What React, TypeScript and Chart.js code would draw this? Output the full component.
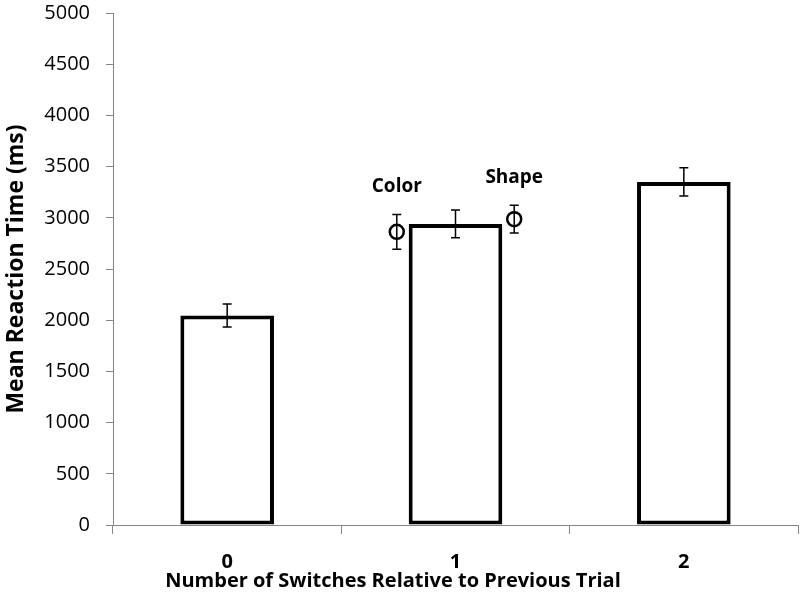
import { useEffect, useRef } from 'react';
import { Chart, registerables } from 'chart.js';

Chart.register(...registerables);

const categories = ['0', '1', '2'];
const meanRT = [2045, 2940, 3350];
const meanErr = [112, 136, 138];
const pointLabels = ['Color', 'Shape'];
const pointX = [0.7, 1.3];
const pointRT = [2863, 2987];
const pointErr = [170, 135];
const yMin = 0;
const yMax = 5000;
const yStep = 500;
const xTitle = 'Number of Switches Relative to Previous Trial';
const yTitle = 'Mean Reaction Time (ms)';

const FONT = '"Open Sans", "DejaVu Sans", sans-serif';
const AXIS_GRAY = '#868686';

const errorBarPlugin = {
  id: 'errorBars',
  afterDatasetsDraw(chart: any) {
    const ctx = chart.ctx;
    const y = chart.scales.y;
    const xc = chart.scales.x;
    const xl = chart.scales.xLin;
    ctx.save();
    ctx.strokeStyle = '#000';
    ctx.lineWidth = 1.5;
    const cap = 4.5;
    const draw = (px: number, v: number, e: number) => {
      const yt = y.getPixelForValue(v + e);
      const yb = y.getPixelForValue(v - e);
      ctx.beginPath();
      ctx.moveTo(px, yt);
      ctx.lineTo(px, yb);
      ctx.moveTo(px - cap, yt);
      ctx.lineTo(px + cap, yt);
      ctx.moveTo(px - cap, yb);
      ctx.lineTo(px + cap, yb);
      ctx.stroke();
    };
    meanRT.forEach((v, i) => draw(xc.getPixelForValue(i), v, meanErr[i]));
    pointRT.forEach((v, i) => draw(xl.getPixelForValue(pointX[i]), v, pointErr[i]));
    ctx.fillStyle = '#000';
    ctx.font = `bold 19px ${FONT}`;
    ctx.textAlign = 'center';
    ctx.textBaseline = 'middle';
    pointLabels.forEach((t, i) => {
      const px = xl.getPixelForValue(pointX[i]);
      const py = y.getPixelForValue(pointRT[i] + pointErr[i]) - 28;
      ctx.fillText(t, px, py);
    });
    // x axis title, centred on the figure like the reference
    ctx.font = `bold 20px ${FONT}`;
    ctx.fillText(xTitle, 393, 581);
    ctx.restore();
  },
};

export default function App() {
  const ref = useRef<HTMLCanvasElement | null>(null);

  useEffect(() => {
    if (!ref.current) return;
    const chart = new Chart(ref.current, {
      type: 'bar',
      data: {
        labels: categories,
        datasets: [
          {
            type: 'bar',
            data: meanRT,
            backgroundColor: '#ffffff',
            borderColor: '#000000',
            borderWidth: 4,
            borderSkipped: false,
            grouped: false,
            categoryPercentage: 1,
            barPercentage: 0.41,
            xAxisID: 'x',
            yAxisID: 'y',
            order: 2,
          } as any,
          {
            type: 'scatter',
            data: pointX.map((x, i) => ({ x, y: pointRT[i] })),
            xAxisID: 'xLin',
            yAxisID: 'y',
            pointStyle: 'circle',
            pointRadius: 7,
            pointBorderWidth: 2.5,
            pointBackgroundColor: 'rgba(255,255,255,0)',
            pointBorderColor: '#000000',
            showLine: false,
            order: 1,
          } as any,
        ],
      },
      options: {
        animation: false,
        responsive: false,
        maintainAspectRatio: false,
        layout: { autoPadding: false, padding: { top: 13, right: 2, bottom: -2, left: 0 } },
        plugins: {
          legend: { display: false },
          tooltip: { enabled: false },
        },
        scales: {
          x: {
            type: 'category',
            offset: true,
            grid: {
              offset: true,
              drawOnChartArea: false,
              drawTicks: true,
              tickLength: 9,
              color: AXIS_GRAY,
            },
            border: { color: AXIS_GRAY, width: 1 },
            ticks: {
              color: '#000',
              font: { family: FONT, size: 20, weight: 'bold' },
              padding: 16,
              maxRotation: 0,
            },
            afterFit: (s: any) => {
              s.height = 72;
              s.paddingLeft = 0;
              s.paddingRight = 0;
              s.paddingTop = 0;
              s.paddingBottom = 0;
            },
          },
          xLin: {
            type: 'linear',
            min: -0.5,
            max: 2.5,
            display: false,
          },
          y: {
            type: 'linear',
            min: yMin,
            max: yMax,
            ticks: {
              stepSize: yStep,
              color: '#000',
              font: { family: FONT, size: 20 },
              padding: 16,
              callback: (v: any) => String(v),
            },
            grid: {
              drawOnChartArea: false,
              drawTicks: true,
              tickLength: 7,
              color: AXIS_GRAY,
            },
            border: { color: AXIS_GRAY, width: 1 },
            title: {
              display: true,
              text: yTitle,
              color: '#000',
              font: { family: FONT, size: 23, weight: 'bold' },
              padding: { top: 3, bottom: 0 },
            },
            afterFit: (s: any) => {
              s.width = 113;
              s.paddingLeft = 0;
              s.paddingRight = 0;
              s.paddingTop = 0;
              s.paddingBottom = 0;
            },
          },
        },
      },
      plugins: [errorBarPlugin],
    });
    return () => chart.destroy();
  }, []);

  return (
    <div style={{ position: 'fixed', left: 0, top: 0, width: 800, height: 595, background: '#fff' }}>
      <canvas ref={ref} width={800} height={595} style={{ display: 'block' }} />
    </div>
  );
}
